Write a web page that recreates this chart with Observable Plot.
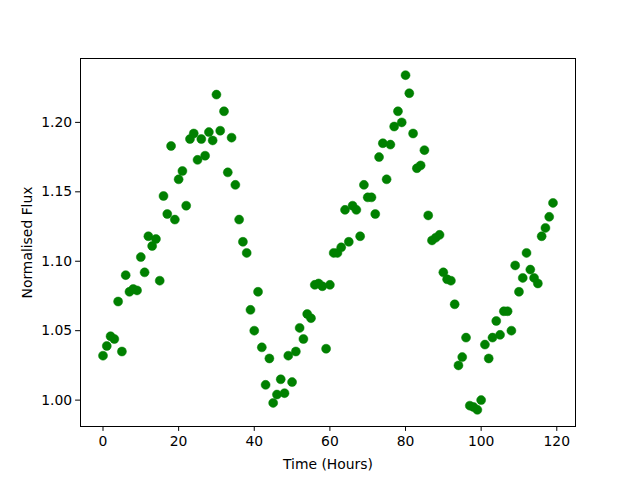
<!DOCTYPE html>
<html>
<head>
<meta charset="utf-8">
<script src="https://cdn.jsdelivr.net/npm/d3@7"></script>
<script src="https://cdn.jsdelivr.net/npm/@observablehq/plot@0.6"></script>
<style>
  html, body { margin: 0; padding: 0; background: #fff; }
</style>
</head>
<body>
<div id="chart"></div>
<script>
const hours = d3.range(0, 120);
const flux = [
  1.032, 1.039, 1.046, 1.044, 1.071, 1.035, 1.090, 1.078, 1.080, 1.079,
  1.103, 1.092, 1.118, 1.111, 1.116, 1.086, 1.147, 1.134, 1.183, 1.130,
  1.159, 1.165, 1.140, 1.188, 1.192, 1.173, 1.188, 1.176, 1.193, 1.187,
  1.220, 1.194, 1.208, 1.164, 1.189, 1.155, 1.130, 1.114, 1.106, 1.065,
  1.050, 1.078, 1.038, 1.011, 1.030, 0.998, 1.004, 1.015, 1.005, 1.032,
  1.013, 1.035, 1.052, 1.044, 1.062, 1.059, 1.083, 1.084, 1.082, 1.037,
  1.083, 1.106, 1.106, 1.110, 1.137, 1.114, 1.140, 1.137, 1.118, 1.155,
  1.146, 1.146, 1.134, 1.175, 1.185, 1.159, 1.184, 1.197, 1.208, 1.200,
  1.234, 1.221, 1.192, 1.167, 1.169, 1.180, 1.133, 1.115, 1.117, 1.119,
  1.092, 1.087, 1.086, 1.069, 1.025, 1.031, 1.045, 0.996, 0.995, 0.993,
  1.000, 1.040, 1.030, 1.045, 1.057, 1.047, 1.064, 1.064, 1.050, 1.097,
  1.078, 1.088, 1.106, 1.094, 1.088, 1.084, 1.118, 1.124, 1.132, 1.142
];
const xTicks = [0, 20, 40, 60, 80, 100, 120];
const yTicks = [1.00, 1.05, 1.10, 1.15, 1.20];

const data = hours.map((h, i) => ({hours: h, flux: flux[i]}));

const chart = Plot.plot({
  width: 640,
  height: 480,
  marginLeft: 80,
  marginRight: 65,
  marginTop: 58,
  marginBottom: 54,
  style: {fontFamily: "DejaVu Sans", fontSize: "13.9px", color: "black", background: "white"},
  x: {domain: [-5.95, 124.95]},
  y: {domain: [0.981, 1.246]},
  marks: [
    Plot.frame({stroke: "black", strokeWidth: 1}),
    Plot.axisX({ticks: xTicks, tickSize: 4.9, tickPadding: 5, tickFormat: d3.format("d"),
      label: "Time (Hours)", labelAnchor: "center", labelArrow: "none", labelOffset: 42}),
    Plot.axisY({ticks: yTicks, tickSize: 4.9, tickPadding: 3.5, tickFormat: d3.format(".2f"),
      label: "Normalised Flux", labelAnchor: "center", labelArrow: "none", labelOffset: 58}),
    Plot.dot(data, {x: "hours", y: "flux", r: 4.5, fill: "#008000", stroke: "#008000", strokeWidth: 0.5})
  ]
});
document.getElementById("chart").appendChild(chart);
</script>
</body>
</html>
